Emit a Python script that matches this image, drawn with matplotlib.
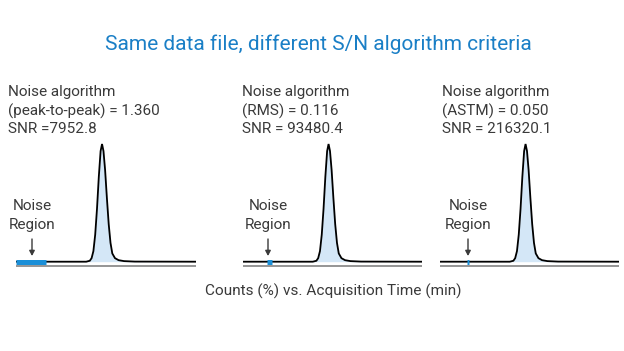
import matplotlib.pyplot as plt

plt.rcParams['font.family'] = ['Roboto', 'DejaVu Sans']

W, H = 624, 351

# chromatogram trace (time in min, counts in %)
times = [0.0, 3.9, 4.1, 4.2, 4.3, 4.4, 4.5, 4.6, 4.7, 4.78, 4.86, 4.95, 5.05,
         5.15, 5.25, 5.35, 5.5, 5.7, 6.0, 6.6, 10.0]
counts = [0.0, 0.0, 0.8, 3.0, 9.0, 23.0, 45.0, 72.0, 94.0, 100.0, 94.0, 78.0,
          54.0, 32.0, 16.0, 7.0, 3.0, 1.3, 0.5, 0.1, 0.0]

algorithms = ['peak-to-peak', 'RMS', 'ASTM']
noise_values = ['1.360', '0.116', '0.050']
snr_labels = ['SNR =7952.8', 'SNR = 93480.4', 'SNR = 216320.1']
noise_start = [0.0, 1.35, 1.53]
noise_end = [1.67, 1.6, 1.61]

title = 'Same data file, different S/N algorithm criteria'
xlabel = 'Counts (%) vs. Acquisition Time (min)'

text_col = '#3a3a3a'
blue = '#1a8fd8'

fig = plt.figure(figsize=(W / 100, H / 100), dpi=100)

def fx(x):
    return x / W

def fy(y):
    return 1 - y / H

panel_x = [(16, 196), (243, 422), (440, 619)]
text_x = [8, 242, 442]
label_x = [32, 268, 468]

base_px = 261.7
top_px = 144.0
ax_top, ax_bot = 135, 272
scale = (base_px - top_px) / 100.0

for i in range(3):
    x0, x1 = panel_x[i]
    ax = fig.add_axes([fx(x0), fy(ax_bot), (x1 - x0) / W, (ax_bot - ax_top) / H])
    ax.set_xlim(0, 10)
    ax.set_ylim(-(ax_bot - base_px) / scale, 100 + (top_px - ax_top) / scale)
    ax.axis('off')
    ax.fill_between(times, counts, 0, color='#d4e7f7', lw=0)
    ax.plot(times, counts, color='black', lw=1.3, solid_joinstyle='miter')
    ax.axhline(-(265.5 - base_px) / scale, color='#8c8c8c', lw=1.3)
    ax.plot([noise_start[i], noise_end[i]], [0, 0], color=blue, lw=3.6,
            solid_capstyle='butt')

    tx = fx(text_x[i])
    fig.text(tx, fy(92), 'Noise algorithm', fontsize=11, color=text_col, va='center')
    fig.text(tx, fy(111), '(%s) = %s' % (algorithms[i], noise_values[i]),
             fontsize=11, color=text_col, va='center')
    fig.text(tx, fy(129), snr_labels[i], fontsize=11,
             color=text_col, va='center')

    lx = fx(label_x[i])
    fig.text(lx, fy(206), 'Noise', fontsize=11, color=text_col, ha='center', va='center')
    fig.text(lx, fy(225), 'Region', fontsize=11, color=text_col, ha='center', va='center')
    fig.add_artist(plt.matplotlib.patches.FancyArrowPatch(
        (lx, fy(239)), (lx, fy(256)), transform=fig.transFigure,
        arrowstyle='-|>,head_length=3,head_width=1.6', color=text_col, lw=1,
        shrinkA=0, shrinkB=0))

fig.text(fx(318), fy(44), title, fontsize=15, color='#1a7fc6', ha='center', va='center')
fig.text(fx(333), fy(291), xlabel, fontsize=11.1, color=text_col, ha='center', va='center')

fig.savefig('out.png', dpi=100)
